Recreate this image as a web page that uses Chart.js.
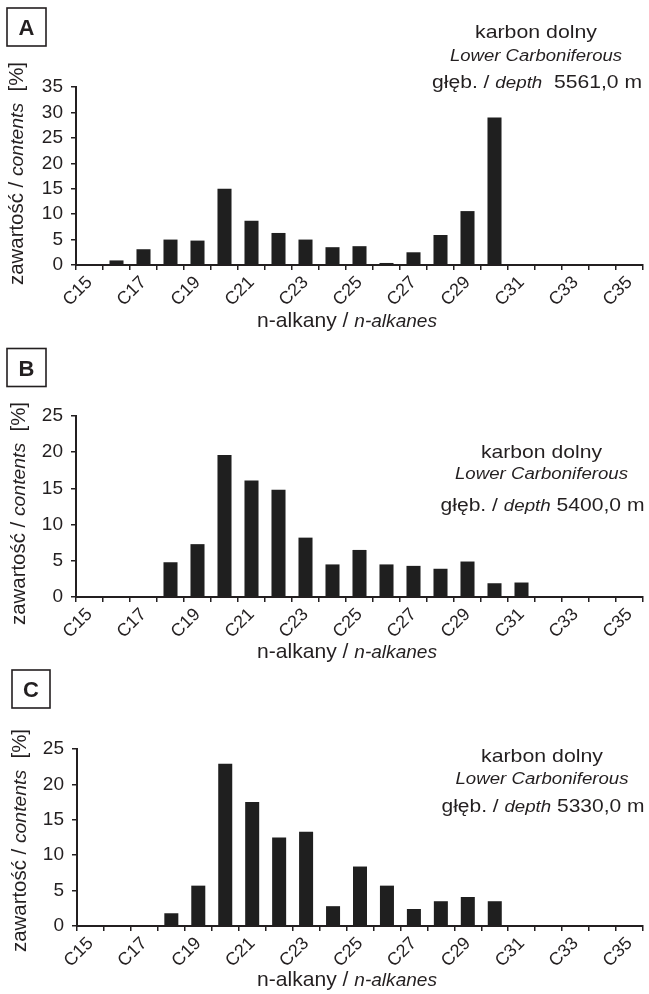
<!DOCTYPE html>
<html>
<head>
<meta charset="utf-8">
<script src="https://cdn.jsdelivr.net/npm/chart.js@4.4.1/dist/chart.umd.min.js"></script>
<style>
  body { margin: 0; background: #fff; }
  canvas { position: absolute; left: 0; }
</style>
</head>
<body>
<canvas id="chartA" width="649" height="340" style="top:0px"></canvas>
<canvas id="chartB" width="649" height="340" style="top:330px"></canvas>
<canvas id="chartC" width="649" height="334" style="top:660px"></canvas>
<script>
// n-alkane categories (C15 .. C35)
const categories = ['C15', 'C16', 'C17', 'C18', 'C19', 'C20', 'C21', 'C22', 'C23', 'C24', 'C25',
                    'C26', 'C27', 'C28', 'C29', 'C30', 'C31', 'C32', 'C33', 'C34', 'C35'];

// contents [%]
const valuesA = [0, 0.9, 3.1, 5.0, 4.8, 15.0, 8.7, 6.3, 5.0, 3.5, 3.7, 0.4, 2.5, 5.9, 10.6, 29.0, 0, 0, 0, 0, 0];
const valuesB = [0, 0, 0, 4.8, 7.3, 19.6, 16.1, 14.8, 8.2, 4.5, 6.5, 4.5, 4.3, 3.9, 4.9, 1.9, 2.0, 0, 0, 0, 0];
const valuesC = [0, 0, 0, 1.8, 5.7, 22.9, 17.5, 12.5, 13.3, 2.8, 8.4, 5.7, 2.4, 3.5, 4.1, 3.5, 0, 0, 0, 0, 0];

// y axis ticks
const yTicksA = [0, 5, 10, 15, 20, 25, 30, 35];
const yTicksB = [0, 5, 10, 15, 20, 25];
const yTicksC = [0, 5, 10, 15, 20, 25];

// sample depths
const depthA = '  5561,0 m';
const depthB = ' 5400,0 m';
const depthC = ' 5330,0 m';

const INK = '#231f20';
const FONT = "'Liberation Sans', Arial, Helvetica, sans-serif";

// draws a line of mixed-style text centred on (x, y), squeezed/stretched to width
function richText(ctx, parts, x, y, width, rotate) {
  ctx.save();
  let natural = 0;
  parts.forEach(p => {
    ctx.font = p.font;
    p.w = ctx.measureText(p.text).width;
    natural += p.w;
  });
  ctx.translate(x, y);
  if (rotate) ctx.rotate(-Math.PI / 2);
  ctx.scale(width / natural, 1);
  ctx.fillStyle = INK;
  ctx.textAlign = 'left';
  ctx.textBaseline = 'alphabetic';
  let cx = -natural / 2;
  parts.forEach(p => {
    ctx.font = p.font;
    ctx.fillText(p.text, cx, 0);
    cx += p.w;
  });
  ctx.restore();
}

function decor(cfg) {
  return {
    id: 'decor',
    afterDraw(chart) {
      const ctx = chart.ctx;
      // boxed panel letter
      ctx.save();
      ctx.strokeStyle = INK;
      ctx.lineWidth = 1.6;
      ctx.strokeRect(cfg.box[0], cfg.box[1], cfg.box[2], cfg.box[3]);
      ctx.fillStyle = INK;
      ctx.font = 'bold 22px ' + FONT;
      ctx.textAlign = 'center';
      ctx.textBaseline = 'alphabetic';
      ctx.fillText(cfg.letter, cfg.box[0] + cfg.box[2] / 2, cfg.box[1] + cfg.box[3] / 2 + 8);
      ctx.restore();

      // stratigraphy / depth note
      const a = cfg.note;
      richText(ctx, [{text: 'karbon dolny', font: '19px ' + FONT}], a.x, a.y[0], a.w[0]);
      richText(ctx, [{text: 'Lower Carboniferous', font: 'italic 16px ' + FONT}], a.x, a.y[1], a.w[1]);
      richText(ctx, [
        {text: 'głęb. / ', font: '18px ' + FONT},
        {text: 'depth', font: 'italic 16px ' + FONT},
        {text: cfg.depth, font: '18px ' + FONT}
      ], a.x + 1, a.y[2], a.w[2]);

      // axis titles
      richText(ctx, [
        {text: 'n-alkany / ', font: '21px ' + FONT},
        {text: 'n-alkanes', font: 'italic 19px ' + FONT}
      ], 347, cfg.xTitleY, 180);
      richText(ctx, [
        {text: 'zawartość / ', font: '20px ' + FONT},
        {text: 'contents', font: 'italic 19px ' + FONT},
        {text: '  [%]', font: '20px ' + FONT}
      ], cfg.yTitle[0], cfg.yTitle[1], 223, true);
    }
  };
}

function makeChart(id, values, yTicks, top, cfg) {
  const canvas = document.getElementById(id);
  const h = canvas.height;
  return new Chart(canvas, {
    type: 'bar',
    data: {
      labels: categories,
      datasets: [{
        data: values,
        backgroundColor: '#1f1f1f',
        borderWidth: 0,
        barPercentage: 0.52,
        categoryPercentage: 1
      }]
    },
    options: {
      responsive: false,
      animation: false,
      events: [],
      layout: { padding: { left: 0, right: 6, top: top, bottom: 0 } },
      plugins: { legend: { display: false }, tooltip: { enabled: false } },
      scales: {
        x: {
          grid: { display: true, offset: true, drawOnChartArea: false, drawTicks: true,
                  tickLength: 5, color: INK, lineWidth: 1.5 },
          border: { display: true, color: INK, width: 2 },
          ticks: {
            autoSkip: false, minRotation: 45, maxRotation: 45, padding: 2,
            color: INK, font: { family: FONT, size: 18 },
            callback: function (v, i) { return i % 2 === 0 ? this.getLabelForValue(v) : ''; }
          },
          afterFit: s => { s.height = h - cfg.bottom; s.paddingLeft = 0; s.paddingRight = 0; }
        },
        y: {
          min: yTicks[0],
          max: yTicks[yTicks.length - 1],
          ticks: { stepSize: yTicks[1] - yTicks[0], autoSkip: false, padding: 8, color: INK,
                   font: { family: FONT, size: 19 } },
          grid: { display: true, drawOnChartArea: false, drawTicks: true, tickLength: 5,
                  color: INK, lineWidth: 1.5 },
          border: { display: true, color: INK, width: 2 },
          afterFit: s => { s.width = cfg.left; s.paddingTop = 0; s.paddingBottom = 0; }
        }
      }
    },
    plugins: [decor(cfg)]
  });
}

makeChart('chartA', valuesA, yTicksA, 87, {
  left: 76, bottom: 265, letter: 'A', box: [7, 8, 39, 38], depth: depthA,
  note: { x: 536, y: [38, 61, 88], w: [122, 172, 210] },
  xTitleY: 327, yTitle: [23, 173.5]
});
makeChart('chartB', valuesB, yTicksB, 86, {
  left: 76, bottom: 267, letter: 'B', box: [7, 18.5, 39, 38], depth: depthB,
  note: { x: 541.5, y: [128, 149, 181], w: [121, 173, 204] },
  xTitleY: 328, yTitle: [25, 183.5]
});
makeChart('chartC', valuesC, yTicksC, 89, {
  left: 77, bottom: 266, letter: 'C', box: [12, 10, 38, 38], depth: depthC,
  note: { x: 542, y: [101.7, 124, 151.7], w: [122, 173, 203] },
  xTitleY: 326, yTitle: [26, 180.5]
});
</script>
</body>
</html>
